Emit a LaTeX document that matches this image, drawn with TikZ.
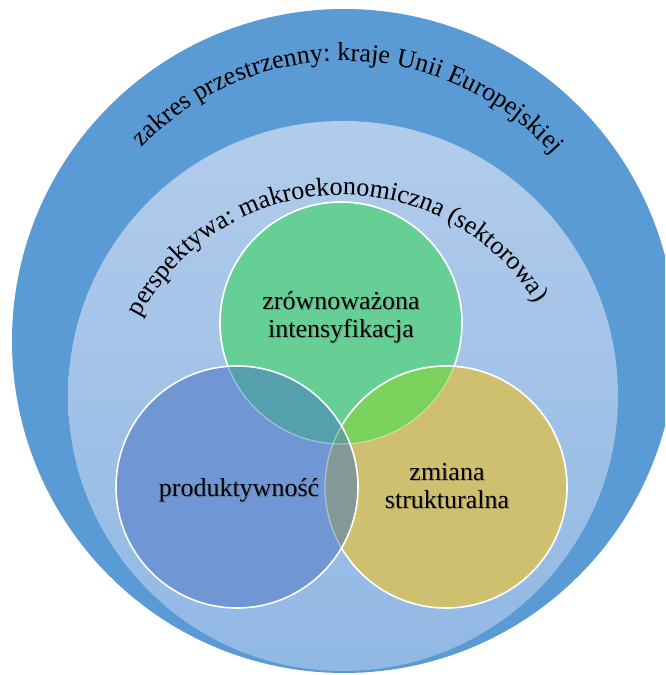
\documentclass[tikz,border=0pt]{standalone}
\usepackage{fontspec}
\setmainfont{Liberation Serif}
\newfontfamily\diagserif{Liberation Serif}
\usetikzlibrary{decorations.text}

\definecolor{outerblue}{RGB}{91,155,213}
\definecolor{innertop}{RGB}{178,204,235}
\definecolor{innerbot}{RGB}{145,184,228}
\definecolor{greenc}{RGB}{102,207,150}
\definecolor{bluec}{RGB}{112,151,211}
\definecolor{yellowc}{RGB}{207,192,112}
\definecolor{gbc}{RGB}{84,160,172}
\definecolor{gyc}{RGB}{122,210,92}
\definecolor{byc}{RGB}{132,152,150}
\definecolor{gbyc}{RGB}{98,162,142}

\newcommand{\labelfont}{\diagserif\fontsize{26}{28}\selectfont}

\tikzset{
  ring/.style={draw=white, line width=1.6pt},
  faintring/.style={draw=white, line width=1.2pt, draw opacity=0.4},
  vennlabel/.style={font=\labelfont, align=center, text=black, inner sep=0pt},
  vennshadow/.style={font=\labelfont, align=center, text=black!70, inner sep=0pt, opacity=0.35},
}

\begin{document}
\begin{tikzpicture}[x=1pt,y=1pt]
\useasboundingbox (0,0) rectangle (665,675);
\fill[white] (0,0) rectangle (665,675);
\clip (0,0) rectangle (665,675);

% centres of the rings, of the ring captions and of the three sets
\coordinate (oc) at (344,334);
\coordinate (ic) at (343,279);
\coordinate (pc) at (342,252);
\coordinate (g) at (341,352);
\coordinate (b) at (237,188);
\coordinate (y) at (446,188);

% nested rings
\fill[outerblue] (oc) circle (332pt);
\shade[top color=innertop, bottom color=innerbot] (ic) circle (275pt);

% sets and their overlaps
\fill[greenc] (g) circle (121pt);
\fill[yellowc] (y) circle (121pt);
\fill[bluec] (b) circle (121pt);
\begin{scope}
  \clip (g) circle (121pt);
  \fill[gbc] (b) circle (121pt);
  \fill[gyc] (y) circle (121pt);
\end{scope}
\begin{scope}
  \clip (b) circle (121pt);
  \fill[byc] (y) circle (121pt);
  \clip (g) circle (121pt);
  \fill[gbyc] (y) circle (121pt);
\end{scope}

% outlines: dimmed where a later set lies on top
\draw[faintring] (g) circle (121pt);
\draw[faintring] (y) circle (121pt);
\begin{scope}
  \clip (-20,-20) -- (-20,700) -- (700,700) -- (700,-20) -- cycle (b) circle (121pt);
  \draw[ring] (y) circle (121pt);
  \clip (-20,-20) -- (-20,700) -- (700,700) -- (700,-20) -- cycle (y) circle (121pt);
  \draw[ring] (g) circle (121pt);
\end{scope}
\draw[ring] (b) circle (121pt);

% labels of the sets
\node[vennshadow] (tg-s) at (342.2,356.8) {zrównoważona\\intensyfikacja};
\node[vennshadow] (tb-s) at (240.2,183.8) {produktywność};
\node[vennshadow] (ty-s) at (448.2,187.8) {zmiana\\strukturalna};
\node[vennlabel] (tg) at (341,358) {zrównoważona\\intensyfikacja};
\node[vennlabel] (tb) at (239,185) {produktywność};
\node[vennlabel] (ty) at (447,189) {zmiana\\strukturalna};

% labels along the rings
\begin{scope}[opacity=0.35, shift={(1.2pt,-1.2pt)}]
\path[decorate, decoration={text along path, text align=center,
  text={|\labelfont\color{black!70}|zakres przestrzenny: kraje Unii Europejskiej}}]
  (oc) ++(142:280pt) arc[start angle=142, end angle=36, radius=280pt];
\path[decorate, decoration={text along path, text align=center,
  text={|\labelfont\color{black!70}|perspektywa: makroekonomiczna (sektorowa)}}]
  (pc) ++(155:228pt) arc[start angle=155, end angle=29, radius=228pt];
\end{scope}
\path[decorate, decoration={text along path, text align=center,
  text={|\labelfont|zakres przestrzenny: kraje Unii Europejskiej}}]
  (oc) ++(142:280pt) arc[start angle=142, end angle=36, radius=280pt];
\path[decorate, decoration={text along path, text align=center,
  text={|\labelfont|perspektywa: makroekonomiczna (sektorowa)}}]
  (pc) ++(155:228pt) arc[start angle=155, end angle=29, radius=228pt];
\end{tikzpicture}
\end{document}
